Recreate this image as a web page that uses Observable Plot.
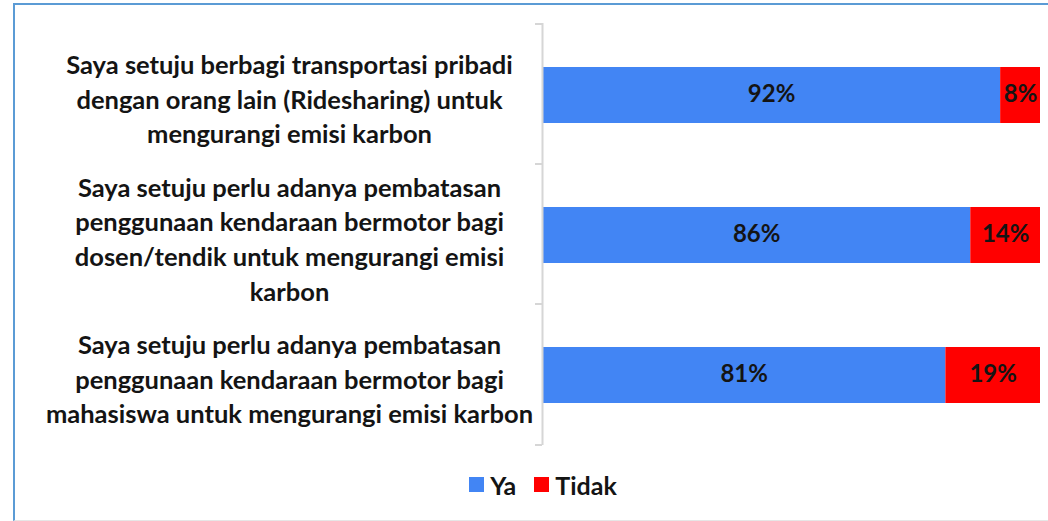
<!DOCTYPE html>
<html>
<head>
<meta charset="utf-8">
<script src="https://cdn.jsdelivr.net/npm/d3@7"></script>
<script src="https://cdn.jsdelivr.net/npm/@observablehq/plot@0.6"></script>
<style>
  html, body { margin: 0; padding: 0; background: #fff; }
  body { width: 1048px; height: 521px; overflow: hidden; position: relative; font-family: Lato, sans-serif; }
  #frame {
    position: absolute; left: 13px; top: 3px; width: 1035px; height: 515px;
    border-top: 2px solid #5b9bd5; border-left: 2px solid #5b9bd5; border-bottom: 1px solid #e6e6e6;
    background: #fff;
  }
  #legendwrap { position: absolute; left: 0; right: 0; top: 463px; display: flex; justify-content: center; padding-left: 39px; }
  .lg-swatches { font-family: Lato, sans-serif !important; font-size: 25px !important; font-weight: bold !important; color: #141414 !important; margin: 0 !important; }
  .lg-swatch { margin-right: 18px !important; }
  .lg-swatch svg { margin-right: 6px !important; }
</style>
</head>
<body>
<div id="frame"><div id="chart"></div><div id="legendwrap"></div></div>
<script>
const categories = [
  "Saya setuju berbagi transportasi pribadi\ndengan orang lain (Ridesharing) untuk\nmengurangi emisi karbon",
  "Saya setuju perlu adanya pembatasan\npenggunaan kendaraan bermotor bagi\ndosen/tendik untuk mengurangi emisi\nkarbon",
  "Saya setuju perlu adanya pembatasan\npenggunaan kendaraan bermotor bagi\nmahasiswa untuk mengurangi emisi karbon"
];
const series = ["Ya", "Tidak"];
const yaValues = [92, 86, 81];
const tidakValues = [8, 14, 19];
const colors = ["#4285f4", "#ff0000"];

const data = [];
categories.forEach((c, i) => {
  data.push({cat: c, series: "Ya", value: yaValues[i]});
  data.push({cat: c, series: "Tidak", value: tidakValues[i]});
});

const boundaryTicks = Plot.ruleX([0], {
  render: (index, scales, values, dims) => {
    const g = d3.create("svg:g");
    const x0 = scales.x(0);
    const ys = categories.map(c => scales.y(c));
    ys.push(dims.height - dims.marginBottom);
    for (const y of ys) {
      g.append("line").attr("x1", x0 - 7).attr("x2", x0).attr("y1", y).attr("y2", y)
        .attr("stroke", "#d6d6d6").attr("stroke-width", 2);
    }
    return g.node();
  }
});

const chart = Plot.plot({
  width: 1033,
  height: 460,
  marginLeft: 527,
  marginRight: 8,
  marginTop: 18,
  marginBottom: 20,
  style: {fontFamily: "Lato, sans-serif", background: "transparent"},
  x: {domain: [0, 100], axis: null},
  y: {domain: categories, padding: 0, axis: null},
  color: {domain: series, range: colors},
  marks: [
    Plot.barX(data, Plot.stackX({x: "value", y: "cat", fill: "series", insetTop: 43, insetBottom: 41})),
    Plot.textX(data, Plot.stackX({x: "value", y: "cat", text: d => d.value + "%", fill: "#141414", fontSize: 24, fontWeight: "bold", dy: 0})),
    Plot.ruleX([0], {stroke: "#d6d6d6", strokeWidth: 2}),
    boundaryTicks,
    Plot.text(categories, {y: d => d, text: d => d, frameAnchor: "left", textAnchor: "middle", dx: -253, dy: 3, fontSize: 25.5, fontWeight: "bold", lineHeight: 1.36, fill: "#141414"})
  ]
});
document.getElementById("chart").appendChild(chart);

const legend = Plot.legend({color: {domain: series, range: colors}, swatchSize: 15, className: "lg"});
document.getElementById("legendwrap").appendChild(legend);
</script>
</body>
</html>
